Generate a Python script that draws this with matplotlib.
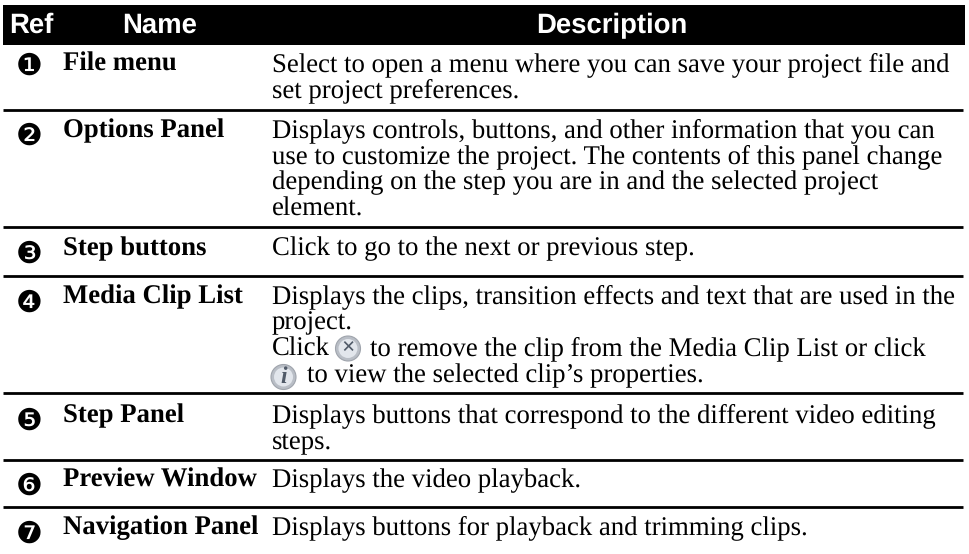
import matplotlib
matplotlib.use("Agg")
import matplotlib.pyplot as plt
from matplotlib.patches import Rectangle, Circle

plt.rcParams["text.hinting"] = "no_hinting"

W, H = 970, 554
headers = ["Ref", "Name", "Description"]
refs = ["\u2776", "\u2777", "\u2778", "\u2779", "\u277a", "\u277b", "\u277c"]
names = ["File menu", "Options Panel", "Step buttons", "Media Clip List",
         "Step Panel", "Preview Window", "Navigation Panel"]
descriptions = [
    ["Select to open a menu where you can save your project file and", "set project preferences."],
    ["Displays controls, buttons, and other information that you can",
     "use to customize the project. The contents of this panel change",
     "depending on the step you are in and the selected project", "element."],
    ["Click to go to the next or previous step."],
    ["Displays the clips, transition effects and text that are used in the", "project."],
    ["Displays buttons that correspond to the different video editing", "steps."],
    ["Displays the video playback."],
    ["Displays buttons for playback and trimming clips."],
]
icon_text = [("Click", 272, 355.5), ("to remove the clip from the Media Clip List or click", 370, 355.5),
             ("to view the selected clip\u2019s properties.", 307, 382.5)]

row_base = [71, 137, 255, 303, 422, 487, 534]
ref_center = [63, 133, 251, 300, 418, 483, 531]
rules = [110, 227, 276, 393, 460, 507]
LEAD = 26.3
FS = 19.3
serif = "Liberation Serif"

fig = plt.figure(figsize=(W / 100, H / 100), dpi=100)
ax = fig.add_axes([0, 0, 1, 1])
ax.set_xlim(0, W)
ax.set_ylim(H, 0)
ax.axis("off")

ax.add_patch(Rectangle((3, 5), 962, 40, color="black", lw=0))
for t, x in zip(headers, [31, 160, 612]):
    ax.text(x, 33, t, color="white", ha="center", va="baseline",
            family="Liberation Sans", weight="bold", fontsize=19.8)

for y in rules:
    ax.plot([3, 963], [y, y], color="black", lw=2.0, solid_capstyle="butt")

for r, n, d, y, c in zip(refs, names, descriptions, row_base, ref_center):
    ax.text(29, c + 11.4, r, ha="center", va="baseline", family="DejaVu Sans", fontsize=21.5, color="black")
    ax.text(63, y, n, ha="left", va="baseline", family=serif, weight="bold", fontsize=FS, color="black")
    for i, line in enumerate(d):
        ax.text(272, y + i * LEAD, line, ha="left", va="baseline", family=serif, fontsize=FS, color="black")
for t, x, y in icon_text:
    ax.text(x, y, t, ha="left", va="baseline", family=serif, fontsize=FS, color="black")

# inline icons
for (cx, cy, g) in [(348, 348.5, "\u00d7"), (283.5, 377, "i")]:
    ax.add_patch(Circle((cx, cy), 12.5, fc="#b9bec6", ec="#9fa4ac", lw=0.8))
    ax.add_patch(Circle((cx, cy), 9.5, fc="#e2e6ec", ec="none"))
    ax.text(cx, cy + 0.5, g, ha="center", va="center", fontsize=17, color="#505a68",
            family=serif, weight="bold", style="italic" if g == "i" else "normal")

fig.savefig("out.png", dpi=100)
